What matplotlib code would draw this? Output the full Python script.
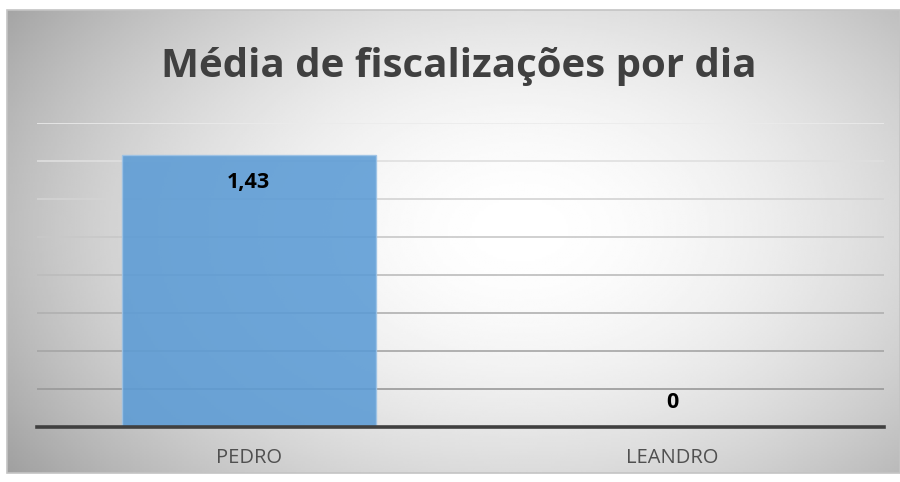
import matplotlib
matplotlib.use("Agg")
import matplotlib.pyplot as plt
import numpy as np
from matplotlib.patches import Rectangle

# data
categories = ["PEDRO", "LEANDRO"]
values = [1.43, 0]
value_labels = ["1,43", "0"]
title = "Média de fiscalizações por dia"
y_max = 1.6
y_step = 0.2

W, H = 900, 482
plt.rcParams["font.family"] = ["Open Sans", "DejaVu Sans"]

fig = plt.figure(figsize=(W / 100, H / 100), dpi=100)
fig.patch.set_facecolor("white")

# background with radial gradient (chart area 7..900 x 10..473 px)
bg = fig.add_axes([0, 0, 1, 1])
bg.set_xlim(0, W)
bg.set_ylim(H, 0)
bg.axis("off")
x0, x1, y0, y1 = 7, 900, 10, 473
xx, yy = np.meshgrid(np.linspace(x0, x1, 400), np.linspace(y0, y1, 220))
r = np.sqrt(((xx - 520) / 480) ** 2 + ((yy - 230) / 320) ** 2)
shade = np.clip(1.0 - 0.23 * r ** 1.8, 0, 1)
bg.imshow(shade, cmap="gray", vmin=0, vmax=1, extent=[x0, x1, y1, y0], aspect="auto", interpolation="bilinear")
bg.add_patch(Rectangle((x0, y0), x1 - x0, y1 - y0, fill=False, edgecolor="#c4c4c4", linewidth=1.2))

# title
fig.text(459 / W, 1 - 77 / H, title, ha="center", va="baseline", fontsize=29, fontweight="bold", color="#404040")

# plot area
ax = fig.add_axes([37 / W, 1 - 427 / H, (884 - 37) / W, (427 - 123) / H])
ax.patch.set_alpha(0)
ax.set_xlim(-0.5, len(categories) - 0.5)
ax.set_ylim(0, y_max)

ticks = np.arange(y_step, y_max + 1e-9, y_step)
for i, t in enumerate(ticks):
    frac = i / (len(ticks) - 1)
    g = 0.6 + 0.32 * frac
    ax.axhline(t, color=(g, g, g), linewidth=1.2, zorder=1)

x = np.arange(len(categories))
bars = ax.bar(x, values, width=0.6, color="#5b9bd5", alpha=0.88, edgecolor="#9dc3e6", linewidth=1, zorder=2)

for xi, v, lab in zip(x, values, value_labels):
    off = -27 if v > 0 else 25
    ax.annotate(lab, (xi, v), xytext=(0, off * 0.72), textcoords="offset points", ha="center", va="center",
                fontsize=15.5, fontweight="bold", color="black", zorder=4)

ax.set_yticks([])
ax.set_xticks(x, categories)
ax.tick_params(axis="x", length=0, pad=15, labelsize=14.5, labelcolor="#505050")
for s in ["top", "right", "left"]:
    ax.spines[s].set_visible(False)
ax.spines["bottom"].set_color("#404040")
ax.spines["bottom"].set_linewidth(2.6)
ax.spines["bottom"].set_zorder(5)

fig.savefig("out.png", dpi=100)
